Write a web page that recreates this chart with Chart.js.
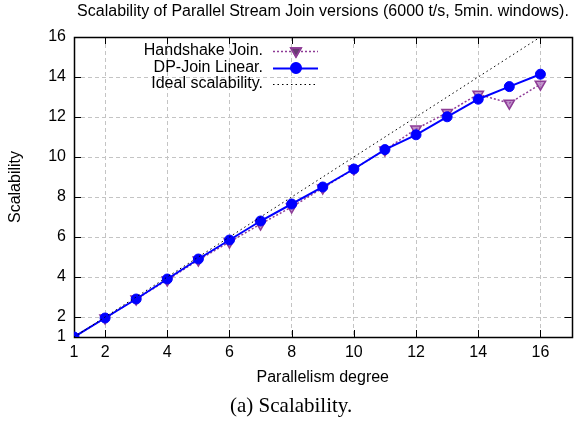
<!DOCTYPE html>
<html>
<head>
<meta charset="utf-8">
<script src="https://cdn.jsdelivr.net/npm/chart.js@4"></script>
<style>
  body { margin: 0; background: #fff; }
  #wrap { position: relative; width: 579px; height: 426px; }
  #chartBox { position: absolute; left: 0; top: 0; width: 579px; height: 426px; }
  #caption {
    position: absolute; left: 230px; top: 393px;
    font-family: "Liberation Serif", serif; font-size: 21px; color: #000;
    white-space: pre;
  }
</style>
</head>
<body>
<div id="wrap">
  <div id="chartBox"><canvas id="scaleChart"></canvas></div>
  <div id="caption">(a) Scalability.</div>
</div>
<script>
const parallelism = [1, 2, 3, 4, 5, 6, 7, 8, 9, 10, 11, 12, 13, 14, 15, 16];
const handshakeJoin = [1, 1.95, 2.9, 3.85, 4.85, 5.75, 6.65, 7.5, 8.45, 9.4, 10.35, 11.4, 12.22, 13.14, 12.69, 13.64];
const dpJoinLinear = [1, 1.95, 2.9, 3.9, 4.9, 5.85, 6.8, 7.65, 8.5, 9.4, 10.37, 11.11, 12.01, 12.89, 13.52, 14.14];
const idealX = [1, 16];
const idealY = [1, 16];
const xTicks = [1, 2, 4, 6, 8, 10, 12, 14, 16];
const yTicks = [1, 2, 4, 6, 8, 10, 12, 14, 16];
const chartTitle = "Scalability of Parallel Stream Join versions (6000 t/s, 5min. windows).";

const toPoints = (xs, ys) => xs.map((x, i) => ({ x: x, y: ys[i] }));

Chart.defaults.font.family = "'Liberation Sans', Arial, sans-serif";
Chart.defaults.font.size = 16;
Chart.defaults.color = "#000";

// gnuplot style frame, inward ticks, title and legend
const gnuplotDecor = {
  id: "gnuplotDecor",
  beforeDatasetsDraw(chart) {
    const { ctx, chartArea: a, scales } = chart;
    ctx.save();
    ctx.strokeStyle = "#000";
    ctx.lineWidth = 1;
    ctx.beginPath();
    const t = 7;
    xTicks.forEach(v => {
      const px = Math.round(scales.x.getPixelForValue(v)) + 0.5;
      ctx.moveTo(px, a.bottom); ctx.lineTo(px, a.bottom - t);
      ctx.moveTo(px, a.top); ctx.lineTo(px, a.top + t);
    });
    yTicks.forEach(v => {
      const py = Math.round(scales.y.getPixelForValue(v)) + 0.5;
      ctx.moveTo(a.left, py); ctx.lineTo(a.left + t, py);
      ctx.moveTo(a.right, py); ctx.lineTo(a.right - t, py);
    });
    ctx.stroke();
    ctx.lineWidth = 1.5;
    ctx.strokeRect(Math.round(a.left) + 0.5, Math.round(a.top) + 0.5,
      Math.round(a.right - a.left), Math.round(a.bottom - a.top));
    ctx.restore();
  },
  afterDraw(chart) {
    const { ctx } = chart;
    ctx.save();
    ctx.fillStyle = "#000";
    ctx.font = "16px 'Liberation Sans', Arial, sans-serif";
    ctx.textAlign = "center";
    ctx.textBaseline = "middle";
    ctx.fillText(chartTitle, 323, 12);

    // legend: right aligned text, sample on the right
    ctx.textAlign = "right";
    const rows = [51, 68, 84];
    chart.data.datasets.forEach((ds, i) => {
      const y = rows[i];
      ctx.fillStyle = "#000";
      ctx.fillText(ds.label, 263, y);
      ctx.beginPath();
      ctx.setLineDash(ds.borderDash || []);
      ctx.strokeStyle = ds.borderColor;
      ctx.lineWidth = ds.borderWidth;
      ctx.moveTo(273, y + 0.5);
      ctx.lineTo(318, y + 0.5);
      ctx.stroke();
      ctx.setLineDash([]);
      if (ds.pointRadius > 0) {
        Chart.helpers.drawPoint(ctx, {
          pointStyle: ds.pointStyle,
          rotation: ds.pointRotation || 0,
          radius: ds.pointRadius,
          borderWidth: ds.pointBorderWidth
        }, 296, y);
        ctx.fillStyle = ds.pointBackgroundColor;
        ctx.strokeStyle = ds.borderColor;
        ctx.lineWidth = ds.pointBorderWidth;
        ctx.fill();
        ctx.stroke();
      }
    });
    ctx.restore();
  }
};

new Chart(document.getElementById("scaleChart"), {
  type: "scatter",
  data: {
    datasets: [
      {
        label: "Handshake Join.",
        data: toPoints(parallelism, handshakeJoin),
        showLine: true,
        borderColor: "#8e3c96",
        borderWidth: 1.5,
        borderDash: [2, 2],
        pointStyle: "triangle",
        pointRotation: 180,
        pointRadius: 6,
        pointBorderWidth: 1.5,
        pointBackgroundColor: "rgba(160, 90, 175, 0.65)",
        order: 3
      },
      {
        label: "DP-Join Linear.",
        data: toPoints(parallelism, dpJoinLinear),
        showLine: true,
        borderColor: "#0000ff",
        borderWidth: 2,
        pointStyle: "circle",
        pointRadius: 5,
        pointBorderWidth: 1,
        pointBackgroundColor: "#0000ff",
        order: 2
      },
      {
        label: "Ideal scalability.",
        data: toPoints(idealX, idealY),
        showLine: true,
        borderColor: "#000",
        borderWidth: 1,
        borderDash: [1.5, 3],
        pointRadius: 0,
        pointBorderWidth: 0,
        order: 1
      }
    ]
  },
  plugins: [gnuplotDecor],
  options: {
    responsive: true,
    maintainAspectRatio: false,
    animation: false,
    layout: { padding: { left: 0, top: 37, right: 5, bottom: 39 } },
    plugins: {
      legend: { display: false },
      tooltip: { enabled: false }
    },
    elements: { line: { tension: 0 } },
    scales: {
      x: {
        type: "linear",
        min: 1,
        max: 17,
        afterBuildTicks: s => { s.ticks = xTicks.map(v => ({ value: v })); },
        afterFit: s => { s.height = 50; },
        ticks: { padding: 6, autoSkip: false },
        grid: {
          drawTicks: false,
          color: c => (c.tick && c.tick.value === 1 ? "rgba(0,0,0,0)" : "#c4c4c4")
        },
        border: { display: false, dash: [4, 3] },
        title: { display: true, text: "Parallelism degree", padding: { top: 0, bottom: 0 } }
      },
      y: {
        type: "linear",
        min: 1,
        max: 16,
        afterBuildTicks: s => { s.ticks = yTicks.map(v => ({ value: v })); },
        afterFit: s => { s.width = 74; },
        ticks: { padding: 8, autoSkip: false },
        grid: {
          drawTicks: false,
          color: c => (c.tick && c.tick.value === 1 ? "rgba(0,0,0,0)" : "#c4c4c4")
        },
        border: { display: false, dash: [4, 3] },
        title: { display: true, text: "Scalability", padding: { top: 6, bottom: 0 } }
      }
    }
  }
});
</script>
</body>
</html>
